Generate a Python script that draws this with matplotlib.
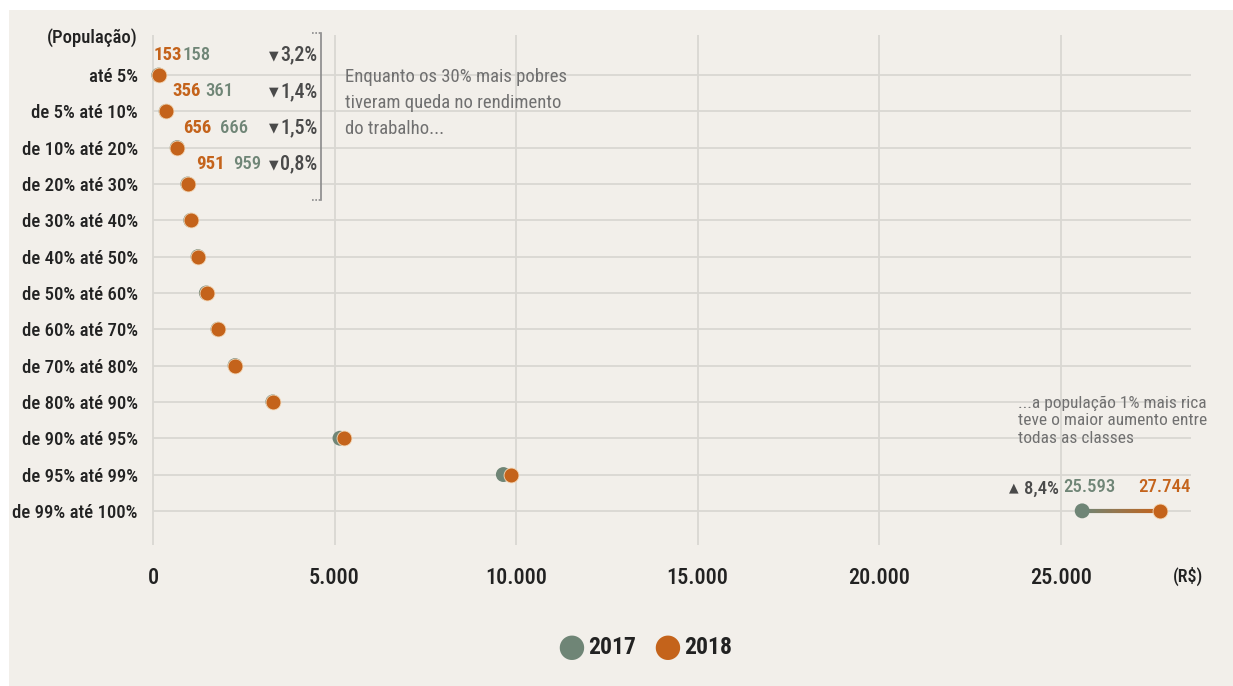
import numpy as np
import matplotlib
matplotlib.use("Agg")
import matplotlib.pyplot as plt
from matplotlib.patches import Rectangle

plt.rcParams['font.family'] = ['Roboto Condensed', 'DejaVu Sans']

# dados (R$ rendimento médio do trabalho)
classes = ['até 5%', 'de 5% até 10%', 'de 10% até 20%', 'de 20% até 30%',
           'de 30% até 40%', 'de 40% até 50%', 'de 50% até 60%', 'de 60% até 70%',
           'de 70% até 80%', 'de 80% até 90%', 'de 90% até 95%', 'de 95% até 99%',
           'de 99% até 100%']
v2017 = [158, 361, 666, 959, 1040, 1240, 1470, 1790, 2260, 3300, 5150, 9650, 25593]
v2018 = [153, 356, 656, 951, 1050, 1250, 1480, 1800, 2270, 3310, 5270, 9860, 27744]
var_pobres = ['3,2%', '1,4%', '1,5%', '0,8%']
var_ricos = '8,4%'
xticks = [0, 5000, 10000, 15000, 20000, 25000]
xticklabels = ['0', '5.000', '10.000', '15.000', '20.000', '25.000']

BG = '#f2efea'
GREEN = '#6f8576'
ORANGE = '#c4631b'
GRID = '#d9d7d2'
TXT = '#222222'
NOTE = '#707070'
DARK = '#4a4a4a'

W, H = 1233, 686
fig = plt.figure(figsize=(W / 100, H / 100), dpi=100, facecolor='white')
fig.patches.append(Rectangle((9 / W, 0), 1 - 9 / W, 1 - 10 / H, transform=fig.transFigure,
                             facecolor=BG, edgecolor='none', zorder=-10))

ax = fig.add_axes([138 / W, 1 - 545 / H, (1195 - 138) / W, (545 - 30) / H])
ax.set_facecolor('none')
n = len(classes)
y = np.arange(n)
ax.set_xlim(-413, 28700)
ax.set_ylim(12.94, -1.24)
for s in ax.spines.values():
    s.set_visible(False)

# grades
ax.hlines(y, 0, 28600, color=GRID, lw=1.3, zorder=1)
ax.vlines(xticks, -1.1, 12.94, color=GRID, lw=1.3, zorder=1)

ax.set_yticks(y)
ax.set_yticklabels(classes, fontsize=13.5, color=TXT, fontweight='medium')
ax.set_xticks([])
ax.tick_params(axis='y', length=0, pad=0)

ax.text(0, -1.02, '(População)', transform=ax.get_yaxis_transform(), ha='right',
        va='center', fontsize=13.5, color=TXT, fontweight='medium')

for xt, lbl in zip(xticks, xticklabels):
    ax.text(xt, 13.85, lbl, ha='center', va='center', fontsize=16, color=TXT,
            fontweight='medium')
ax.text(28500, 13.8, '(R$)', ha='center', va='center', fontsize=13, color=TXT,
        fontweight='medium')

# pontos
ax.scatter(v2017, y, s=115, color=GREEN, zorder=3, edgecolor='none')
ax.scatter(v2018, y, s=115, color=ORANGE, zorder=4, edgecolor='#f5d9b8', linewidth=0.6)

# linha com gradiente para o 1% mais rico
k = n - 1
xs = np.linspace(v2017[k], v2018[k], 40)
c0 = np.array(matplotlib.colors.to_rgb(GREEN))
c1 = np.array(matplotlib.colors.to_rgb(ORANGE))
for i in range(len(xs) - 1):
    t = i / (len(xs) - 2)
    ax.plot(xs[i:i + 2], [k, k], color=(1 - t) * c0 + t * c1, lw=3, zorder=2,
            solid_capstyle='butt')

# rótulos dos 30% mais pobres (deslocamento em pontos a partir do ponto de 2018)
off_or = [-3.5, 4.5, 4.5, 6]
off_gr = [17, 28, 31, 32.5]
for i in range(4):
    ax.annotate(str(v2018[i]), (v2018[i], y[i] - 0.55), xytext=(off_or[i], 0),
                textcoords='offset points', ha='left', va='center', fontsize=13.5,
                color=ORANGE, fontweight='bold')
    ax.annotate(str(v2017[i]), (v2018[i], y[i] - 0.55), xytext=(off_gr[i], 0),
                textcoords='offset points', ha='left', va='center', fontsize=13.5,
                color=GREEN, fontweight='medium')
    ax.text(4530, y[i] - 0.55, var_pobres[i], ha='right', va='center', fontsize=14.5,
            color=DARK, fontweight='medium')
    ax.annotate('▼', (4530, y[i] - 0.55), xytext=(-28, -0.5), textcoords='offset points',
                ha='right', va='center', fontsize=9, color=DARK, family='DejaVu Sans')

# colchete
bx = 4620
ax.plot([bx, bx], [-1.16, 3.44], color='#8a8a8a', lw=1.2, zorder=2)
ax.plot([bx - 230, bx], [-1.16, -1.16], color='#8a8a8a', lw=1.2, ls=(0, (1, 1)))
ax.plot([bx - 230, bx], [3.44, 3.44], color='#8a8a8a', lw=1.2, ls=(0, (1, 1)))

ax.text(5300, 0.77, 'Enquanto os 30% mais pobres\ntiveram queda no rendimento\ndo trabalho...',
        ha='left', va='center', fontsize=13.5, color=NOTE, linespacing=1.55)

ax.text(23830, 9.52, '...a população 1% mais rica\nteve o maior aumento entre\ntodas as classes',
        ha='left', va='center', fontsize=12.5, color=NOTE, linespacing=1.2)

ax.text(24950, k - 0.6, var_ricos, ha='right', va='center', fontsize=13.5, color=DARK,
        fontweight='medium')
ax.annotate('▲', (24950, k - 0.6), xytext=(-29, 0.5), textcoords='offset points',
            ha='right', va='center', fontsize=9, color=DARK, family='DejaVu Sans')
ax.annotate('25.593', (v2017[k], k - 0.66), xytext=(5, 0), textcoords='offset points',
            ha='center', va='center', fontsize=13.5, color=GREEN, fontweight='medium')
ax.annotate('27.744', (v2018[k], k - 0.66), xytext=(3, 0), textcoords='offset points',
            ha='center', va='center', fontsize=13.5, color=ORANGE, fontweight='medium')

# legenda
fig.text(571 / W, 1 - 648 / H, '●', color=GREEN, fontsize=23, ha='center', va='center',
         family='DejaVu Sans')
fig.text(588 / W, 1 - 648 / H, '2017', color=TXT, fontsize=17, fontweight='bold', ha='left', va='center')
fig.text(667 / W, 1 - 648 / H, '●', color=ORANGE, fontsize=23, ha='center', va='center',
         family='DejaVu Sans')
fig.text(684 / W, 1 - 648 / H, '2018', color=TXT, fontsize=17, fontweight='bold', ha='left', va='center')

fig.savefig('out.png', dpi=100, facecolor='white')
